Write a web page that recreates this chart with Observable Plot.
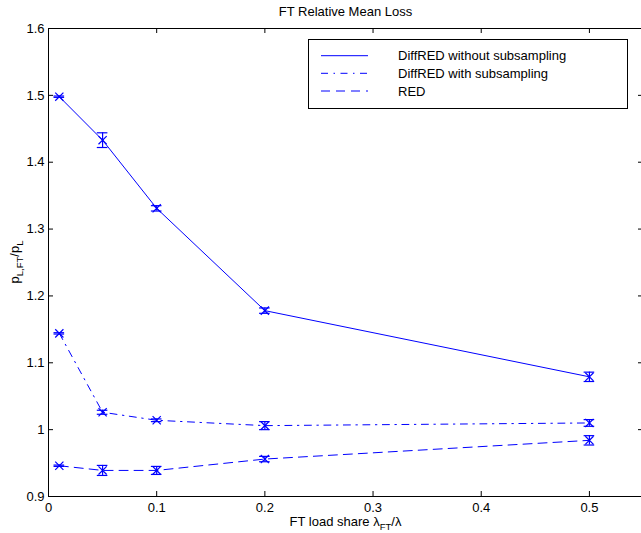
<!DOCTYPE html>
<html><head><meta charset="utf-8">
<script src="https://cdn.jsdelivr.net/npm/d3@7"></script>
<script src="https://cdn.jsdelivr.net/npm/@observablehq/plot@0.6"></script>
<style>body{margin:0;background:#fff;} svg{display:block;}</style>
</head><body><div id="chart"></div>
<script>
// ---- data ----
const loadShare = [0.01, 0.05, 0.1, 0.2, 0.5];
const seriesNames = ["DiffRED without subsampling", "DiffRED with subsampling", "RED"];
const diffredNoSub = [1.498, 1.433, 1.331, 1.178, 1.079];
const diffredNoSubErr = [0.001, 0.011, 0.004, 0.004, 0.007];
const diffredSub = [1.144, 1.026, 1.014, 1.006, 1.010];
const diffredSubErr = [0.001, 0.003, 0.002, 0.006, 0.005];
const red = [0.946, 0.939, 0.939, 0.956, 0.984];
const redErr = [0.001, 0.0075, 0.006, 0.004, 0.007];
const xTicks = [0, 0.1, 0.2, 0.3, 0.4, 0.5];
const xTickLabels = ["0", "0.1", "0.2", "0.3", "0.4", "0.5"];
const yTicks = [0.9, 1.0, 1.1, 1.2, 1.3, 1.4, 1.5, 1.6];
const yTickLabels = ["0.9", "1", "1.1", "1.2", "1.3", "1.4", "1.5", "1.6"];
const titleText = "FT Relative Mean Loss";

// ---- layout ----
const W = 641, H = 533;
const mL = 48, mT = 28, mB = 37;
const xDomain = [0, 0.55], yDomain = [0.9, 1.6];
const xRange = [48, 643], yRange = [H - mB, mT];
const dashStyles = [null, "7,5.5,1.5,5.5", "9,6"];
const color = "#0000ff";
const fs = 13;

const allVals = [diffredNoSub, diffredSub, red];
const allErrs = [diffredNoSubErr, diffredSubErr, redErr];
const data = [];
seriesNames.forEach((s, si) => loadShare.forEach((x, i) => data.push({series: s, si, x, y: allVals[si][i], e: allErrs[si][i]})));

// pixel -> data conversions for ticks/caps
const pxX = (xDomain[1] - xDomain[0]) / (xRange[1] - xRange[0]);
const pxY = (yDomain[1] - yDomain[0]) / (yRange[0] - yRange[1]);
const tickLen = 5;
const capHalf = 5.3 * pxX;

const marks = [];
// frame
marks.push(Plot.ruleY([yDomain[0], yDomain[1]], {stroke: "black"}));
marks.push(Plot.ruleX([xDomain[0]], {stroke: "black"}));
// inward ticks
marks.push(Plot.ruleX(xTicks, {x: d => d, y1: yDomain[0], y2: yDomain[0] + tickLen * pxY, stroke: "black"}));
marks.push(Plot.ruleX(xTicks, {x: d => d, y1: yDomain[1] - tickLen * pxY, y2: yDomain[1], stroke: "black"}));
marks.push(Plot.ruleY(yTicks, {y: d => d, x1: xDomain[0], x2: xDomain[0] + tickLen * pxX, stroke: "black"}));
marks.push(Plot.ruleY(yTicks, {y: d => d, x1: xDomain[1] - tickLen * pxX, x2: xDomain[1], stroke: "black"}));
// axes labels
marks.push(Plot.axisX(xTicks, {tickSize: 0, tickPadding: 6, tickFormat: d => xTickLabels[xTicks.indexOf(d)], label: null}));
marks.push(Plot.axisY(yTicks, {tickSize: 0, tickPadding: 4, tickFormat: d => yTickLabels[yTicks.indexOf(d)], label: null}));
// series
seriesNames.forEach((s, si) => {
  const d = data.filter(r => r.si === si);
  marks.push(Plot.line(d, {x: "x", y: "y", stroke: color, strokeWidth: 1, strokeDasharray: dashStyles[si]}));
  marks.push(Plot.ruleX(d, {x: "x", y1: r => r.y - r.e, y2: r => r.y + r.e, stroke: color, strokeWidth: 1.2}));
  marks.push(Plot.ruleY(d, {y: r => r.y - r.e, x1: r => r.x - capHalf, x2: r => r.x + capHalf, stroke: color, strokeWidth: 1.2}));
  marks.push(Plot.ruleY(d, {y: r => r.y + r.e, x1: r => r.x - capHalf, x2: r => r.x + capHalf, stroke: color, strokeWidth: 1.2}));
  marks.push(Plot.dot(d, {x: "x", y: "y", symbol: "times", r: 3.8, stroke: color, strokeWidth: 1.2}));
});

const chart = Plot.plot({
  width: W, height: H,
  marginLeft: mL, marginTop: mT, marginBottom: mB, marginRight: 0,
  style: {fontFamily: "'Liberation Sans', Arial, Helvetica, sans-serif", fontSize: fs + "px", background: "white", color: "black"},
  x: {domain: xDomain, range: xRange},
  y: {domain: yDomain, range: yRange},
  marks
});
document.getElementById("chart").appendChild(chart);

const svg = d3.select(chart);
const ff = "'Liberation Sans', Arial, Helvetica, sans-serif";
const cx = (xRange[0] + xRange[1]) / 2;
// title
svg.append("text").attr("x", cx).attr("y", 16).attr("text-anchor", "middle")
  .attr("font-family", ff).attr("font-size", fs).attr("fill", "black").text(titleText);
// x label
const xl = svg.append("text").attr("x", cx).attr("y", 526).attr("text-anchor", "middle")
  .attr("font-family", ff).attr("font-size", fs).attr("fill", "black");
xl.append("tspan").text("FT load share λ");
xl.append("tspan").attr("dy", 4).attr("font-size", 9.5).text("FT");
xl.append("tspan").attr("dy", -4).text("/λ");
// y label
const yl = svg.append("text").attr("transform", `translate(19,${(yRange[0] + yRange[1]) / 2}) rotate(-90)`)
  .attr("text-anchor", "middle").attr("font-family", ff).attr("font-size", fs).attr("fill", "black");
yl.append("tspan").text("p");
yl.append("tspan").attr("dy", 4).attr("font-size", 9.5).text("L,FT");
yl.append("tspan").attr("dy", -4).text("/p");
yl.append("tspan").attr("dy", 4).attr("font-size", 9.5).text("L");
// legend
const lg = svg.append("g");
lg.append("rect").attr("x", 308.5).attr("y", 39.5).attr("width", 319).attr("height", 69)
  .attr("fill", "white").attr("stroke", "black");
const rowsY = [55.7, 73.3, 91];
seriesNames.forEach((s, si) => {
  lg.append("line").attr("x1", 321).attr("x2", 368).attr("y1", rowsY[si]).attr("y2", rowsY[si])
    .attr("stroke", color).attr("stroke-dasharray", dashStyles[si]);
  lg.append("text").attr("x", 398).attr("y", rowsY[si]).attr("dy", "0.36em").attr("text-anchor", "start")
    .attr("font-family", ff).attr("font-size", fs).attr("fill", "black").text(s);
});
</script>
</body></html>
